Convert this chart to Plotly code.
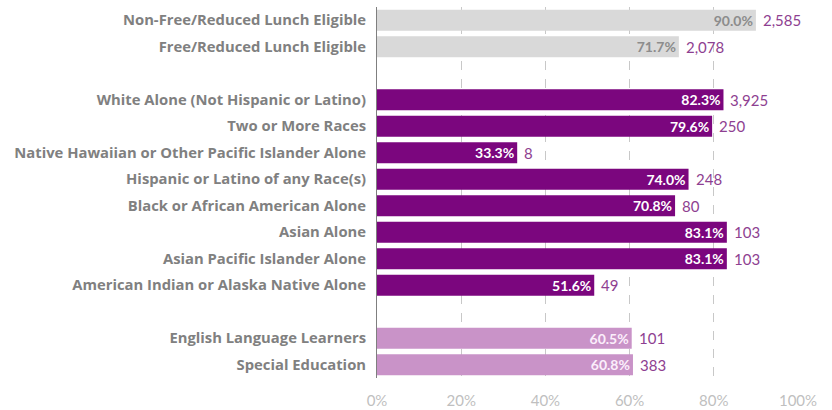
import plotly.graph_objects as go

# Student groups, grouped into blocks separated by a blank row
lunch_labels = ["Non-Free/Reduced Lunch Eligible", "Free/Reduced Lunch Eligible"]
lunch_pct = [90.0, 71.7]
lunch_counts = [2585, 2078]

race_labels = [
    "White Alone (Not Hispanic or Latino)",
    "Two or More Races",
    "Native Hawaiian or Other Pacific Islander Alone",
    "Hispanic or Latino of any Race(s)",
    "Black or African American Alone",
    "Asian Alone",
    "Asian Pacific Islander Alone",
    "American Indian or Alaska Native Alone",
]
race_pct = [82.3, 79.6, 33.3, 74.0, 70.8, 83.1, 83.1, 51.6]
race_counts = [3925, 250, 8, 248, 80, 103, 103, 49]

program_labels = ["English Language Learners", "Special Education"]
program_pct = [60.5, 60.8]
program_counts = [101, 383]

x_ticks = [0, 20, 40, 60, 80, 100]
x_tick_text = ["0%", "20%", "40%", "60%", "80%", "100%"]

FONT = "Lato"
LABEL_FONT = "Open Sans"
COUNT_COLOR = "#8e3f91"

groups = [
    (lunch_labels, lunch_pct, lunch_counts, "#d9d9d9", "#8c8c8c"),
    (race_labels, race_pct, race_counts, "#7b067e", "#ffffff"),
    (program_labels, program_pct, program_counts, "#c993c8", "#fbeefb"),
]

fig = go.Figure()
tickvals, ticktext = [], []
row = 0
for labels, pct, counts, bar_color, text_color in groups:
    ys = list(range(row, row + len(labels)))
    row += len(labels) + 1  # leave one empty row between blocks
    tickvals += ys
    ticktext += labels
    fig.add_trace(go.Bar(
        x=pct, y=ys, orientation="h", width=0.8,
        marker=dict(color=bar_color, line=dict(width=0)),
        text=[f"{v:.1f}%" for v in pct],
        textposition="inside", insidetextanchor="end",
        textfont=dict(family=FONT, size=14, color=text_color, weight="bold"),
        constraintext="none",
        showlegend=False, hoverinfo="skip",
    ))
    for v, c, y in zip(pct, counts, ys):
        fig.add_annotation(
            x=v, y=y, text=f"{c:,}", showarrow=False,
            xanchor="left", yanchor="middle", xshift=5,
            font=dict(family=FONT, size=15, color=COUNT_COLOR),
        )

fig.update_layout(
    width=832, height=410,
    margin=dict(l=377, r=34, t=7, b=32),
    plot_bgcolor="white", paper_bgcolor="white",
    bargap=0.2,
)
fig.update_xaxes(
    range=[0, 100], tickvals=x_ticks, ticktext=x_tick_text,
    showgrid=True, gridcolor="#c8c8c8", griddash="dash", gridwidth=1,
    zeroline=False, showline=False, automargin=False,
    ticks="outside", ticklen=9, tickcolor="rgba(0,0,0,0)",
    tickfont=dict(family=FONT, size=15, color="#bfbfbf"),
)
fig.update_yaxes(
    range=[13.5, -0.5], tickvals=tickvals, ticktext=ticktext,
    showgrid=False, zeroline=False, automargin=False,
    showline=True, linecolor="#7f7f7f", linewidth=1,
    ticks="", ticklabelstandoff=7,
    tickfont=dict(family=LABEL_FONT, size=14.8, color="#808080", weight="bold"),
)

fig.write_html("out.html")
